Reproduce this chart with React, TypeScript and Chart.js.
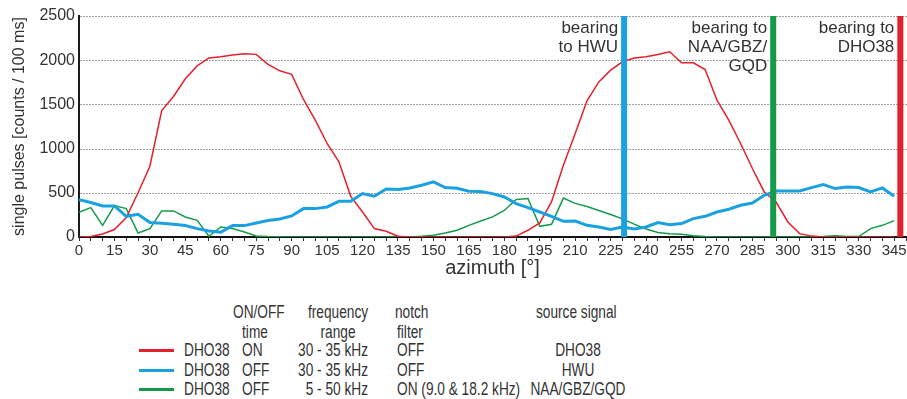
import React, { useEffect, useRef } from 'react';
import { Chart, registerables } from 'chart.js';

Chart.register(...registerables);

// azimuth in degrees (categories)
const azimuth = [
  0, 5, 10, 15, 20, 25, 30, 35, 40, 45, 50, 55, 60, 65, 70, 75, 80, 85, 90, 95,
  100, 105, 110, 115, 120, 125, 130, 135, 140, 145, 150, 155, 160, 165, 170, 175, 180, 185, 190, 195,
  200, 205, 210, 215, 220, 225, 230, 235, 240, 245, 250, 255, 260, 265, 270, 275, 280, 285, 290, 295,
  300, 305, 310, 315, 320, 325, 330, 335, 340, 345,
];

// DHO38 ON, 30-35 kHz, notch OFF (source DHO38)
const dho38On = [
  0, 5, 35, 85, 220, 500, 800, 1430, 1590, 1790, 1935, 2025, 2040, 2058, 2073, 2066, 1952, 1880, 1840, 1556,
  1322, 1058, 850, 460, 283, 95, 65, 8, 0, 0, 0, 0, 0, 0, 0, 0, 0, 10, 76, 160,
  400, 812, 1170, 1540, 1755, 1888, 1982, 2025, 2040, 2065, 2095, 1970, 1970, 1895, 1548, 1322, 1058, 775, 510, 396,
  170, 38, 10, 0, 0, 0, 0, 0, 0, 0,
];

// DHO38 OFF, 30-35 kHz, notch OFF (source HWU)
const dho38OffHwu = [
  423, 390, 352, 352, 234, 257, 163, 155, 144, 129, 95, 68, 53, 129, 129, 159, 186, 204, 238, 321,
  321, 340, 404, 404, 491, 461, 544, 537, 555, 585, 623, 559, 551, 518, 514, 491, 453, 378, 333, 283,
  234, 178, 181, 132, 113, 84, 113, 91, 113, 163, 140, 152, 208, 234, 283, 314, 359, 385, 472, 521,
  521, 521, 559, 593, 548, 566, 559, 510, 555, 461,
];

// DHO38 OFF, 5-50 kHz, notch ON (source NAA/GBZ/GQD)
const dho38OffNotch = [
  280, 333, 132, 355, 321, 45, 95, 295, 295, 227, 189, 8, 113, 95, 57, 11, 5, 3, 0, 0,
  0, 0, 0, 0, 0, 0, 0, 0, 0, 8, 19, 45, 76, 132, 181, 227, 300, 425, 435, 121,
  144, 440, 380, 345, 300, 255, 205, 145, 90, 50, 38, 30, 15, 5, 0, 0, 0, 0, 0, 0,
  0, 0, 0, 5, 15, 5, 5, 95, 132, 185,
];

const seriesColors = ['#e3212b', '#1ba1e2', '#149a48'];

// bearings (vertical markers)
const bearingAzimuths = [230.7, 293.8, 347.6];
const bearingColors = ['#1ba1e2', '#149a48', '#e3212b'];
const bearingLabels = [
  ['bearing', 'to HWU'],
  ['bearing to', 'NAA/GBZ/', 'GQD'],
  ['bearing to', 'DHO38'],
];

const yMin = 0;
const yMax = 2500;
const yStep = 500;
const xMin = 0;
const xMax = 350;
const xTickStep = 5;
const xLabelStep = 15;

// legend table
const legendHeader1 = ['ON/OFF', 'frequency', 'notch', 'source signal'];
const legendHeader2 = ['time', 'range', 'filter'];
const legendReceivers = ['DHO38', 'DHO38', 'DHO38'];
const legendOnOff = ['ON', 'OFF', 'OFF'];
const legendRanges = ['30 - 35 kHz', '30 - 35 kHz', '5 - 50 kHz'];
const legendNotch = ['OFF', 'OFF', 'ON (9.0 & 18.2 kHz)'];
const legendSources = ['DHO38', 'HWU', 'NAA/GBZ/GQD'];

const TEXT = '#333333';
const FONT = '"Liberation Sans", Arial, Helvetica, sans-serif';

// dotted horizontal grid lines at the y scale's ticks (drawn as small dots)
const dottedGridPlugin = {
  id: 'dottedGrid',
  beforeDatasetsDraw(chart: any) {
    const { ctx, chartArea } = chart;
    const ys = chart.scales.y;
    ctx.save();
    ctx.fillStyle = '#a0a0a0';
    ys.ticks.forEach((t: any) => {
      if (t.value <= yMin) return;
      const py = Math.round(ys.getPixelForValue(t.value));
      for (let px = Math.ceil(chartArea.left) + 1; px < chartArea.right; px += 3) {
        ctx.fillRect(px, py, 2, 1);
      }
    });
    ctx.restore();
  },
};

const bearingLabelPlugin = {
  id: 'bearingLabels',
  afterDatasetsDraw(chart: any) {
    const { ctx, chartArea } = chart;
    const xs = chart.scales.x;
    ctx.save();
    ctx.fillStyle = TEXT;
    ctx.font = `17px ${FONT}`;
    ctx.textAlign = 'right';
    ctx.textBaseline = 'middle';
    bearingAzimuths.forEach((b, i) => {
      const px = xs.getPixelForValue(b) - 6;
      bearingLabels[i].forEach((line, j) => {
        ctx.fillText(line, px, chartArea.top + 12 + j * 19);
      });
    });
    ctx.restore();
  },
};

function Txt(props: { x: number; y: number; align?: 'left' | 'right' | 'center'; children: any }) {
  const { x, y, align = 'left', children } = props;
  const style: any = {
    position: 'absolute',
    top: y,
    whiteSpace: 'nowrap',
    lineHeight: '1',
    fontSize: '18px',
  };
  const t = 'translateY(-50%) scaleX(0.76)';
  if (align === 'left') {
    style.left = x;
    style.transform = t;
    style.transformOrigin = 'left center';
  } else if (align === 'right') {
    style.left = x - 300;
    style.width = 300;
    style.textAlign = 'right';
    style.transform = t;
    style.transformOrigin = 'right center';
  } else {
    style.left = x - 150;
    style.width = 300;
    style.textAlign = 'center';
    style.transform = t;
    style.transformOrigin = 'center center';
  }
  return <div style={style}>{children}</div>;
}

export default function App() {
  const canvasRef = useRef<HTMLCanvasElement | null>(null);

  useEffect(() => {
    document.body.style.margin = '0';
    const canvas = canvasRef.current;
    if (!canvas) return;
    const toPoints = (ys: number[]) => azimuth.map((x, i) => ({ x, y: ys[i] }));
    const chart = new Chart(canvas, {
      type: 'line',
      data: {
        datasets: [
          ...bearingAzimuths.map((b, i) => ({
            data: [
              { x: b, y: yMin },
              { x: b, y: yMax },
            ],
            borderColor: bearingColors[i],
            borderWidth: 6,
            borderCapStyle: 'butt',
            pointRadius: 0,
            order: 0,
          })),
          { data: toPoints(dho38OffHwu), borderColor: seriesColors[1], borderWidth: 3, pointRadius: 0, order: 1 },
          { data: toPoints(dho38On), borderColor: seriesColors[0], borderWidth: 1.5, pointRadius: 0, order: 2 },
          { data: toPoints(dho38OffNotch), borderColor: seriesColors[2], borderWidth: 1.5, pointRadius: 0, order: 3 },
        ] as any,
      },
      options: {
        animation: false,
        responsive: false,
        maintainAspectRatio: false,
        layout: { padding: { top: 16, right: 0, bottom: 0, left: 0 } },
        plugins: { legend: { display: false }, tooltip: { enabled: false } },
        elements: { line: { tension: 0 } },
        scales: {
          x: {
            type: 'linear',
            min: xMin,
            max: xMax,
            z: 1,
            afterFit: (s: any) => {
              s.height = 53;
            },
            grid: { drawOnChartArea: false, drawTicks: true, tickLength: 4, tickColor: '#333', tickWidth: 1 },
            border: { display: true, color: '#111', width: 2 },
            ticks: {
              stepSize: xTickStep,
              autoSkip: false,
              maxRotation: 0,
              padding: 1,
              color: TEXT,
              font: { family: FONT, size: 15 },
              callback: (v: any) => (Number(v) % xLabelStep === 0 && Number(v) <= 345 ? String(v) : ''),
            },
            title: {
              display: true,
              text: 'azimuth [°]',
              color: TEXT,
              font: { family: FONT, size: 20 },
              padding: { top: 0, bottom: 10 },
            },
          },
          y: {
            min: yMin,
            max: yMax,
            afterFit: (s: any) => {
              s.width = 79;
            },
            grid: { drawOnChartArea: false, drawTicks: false },
            border: { display: true, color: '#1a1a1a', width: 2 },
            ticks: {
              stepSize: yStep,
              padding: 4,
              color: TEXT,
              font: { family: FONT, size: 16 },
              callback: (v: any) => String(v),
            },
            title: {
              display: true,
              text: 'single pulses [counts / 100 ms]',
              color: TEXT,
              font: { family: FONT, size: 16 },
              padding: { top: 10, bottom: 0 },
            },
          },
        },
      } as any,
      plugins: [dottedGridPlugin, bearingLabelPlugin],
    });
    return () => chart.destroy();
  }, []);

  const rowY = [350, 370, 389];

  return (
    <div style={{ position: 'relative', width: 907, height: 399, fontFamily: FONT, color: TEXT, overflow: 'hidden' }}>
      <canvas ref={canvasRef} width={907} height={290} style={{ position: 'absolute', left: 0, top: 0 }} />
      <Txt x={233} y={312}>{legendHeader1[0]}</Txt>
      <Txt x={308} y={312}>{legendHeader1[1]}</Txt>
      <Txt x={395} y={312}>{legendHeader1[2]}</Txt>
      <Txt x={536} y={312}>{legendHeader1[3]}</Txt>
      <Txt x={255} y={332} align="center">{legendHeader2[0]}</Txt>
      <Txt x={338} y={332} align="center">{legendHeader2[1]}</Txt>
      <Txt x={397} y={332}>{legendHeader2[2]}</Txt>
      {rowY.map((y, i) => (
        <React.Fragment key={i}>
          <div style={{ position: 'absolute', left: 139, top: y - 1.5, width: 35, height: 3, background: seriesColors[i] }} />
          <Txt x={184} y={y}>{legendReceivers[i]}</Txt>
          <Txt x={242} y={y}>{legendOnOff[i]}</Txt>
          <Txt x={368} y={y} align="right">{legendRanges[i]}</Txt>
          <Txt x={397} y={y}>{legendNotch[i]}</Txt>
          <Txt x={578} y={y} align="center">{legendSources[i]}</Txt>
        </React.Fragment>
      ))}
    </div>
  );
}
